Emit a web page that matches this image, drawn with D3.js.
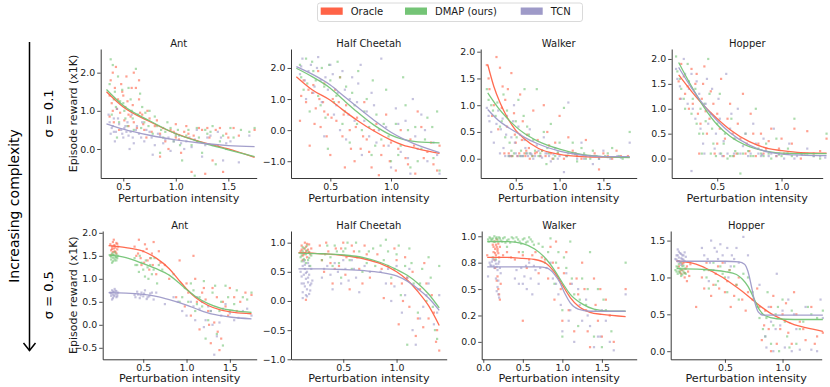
<!DOCTYPE html>
<html><head><meta charset="utf-8">
<script src="https://cdn.jsdelivr.net/npm/d3@7"></script>
<style>body{margin:0;background:#fff;} svg{display:block;font-family:"DejaVu Sans",sans-serif;}</style>
</head><body><svg id="c" width="830" height="387"></svg>
<script>
// ---------- labels ----------
const seriesNames = ["Oracle", "DMAP (ours)", "TCN"];
const envNames = ["Ant", "Half Cheetah", "Walker", "Hopper"];
const sigmaLabels = ["σ = 0.1", "σ = 0.5"];
const yLabel = "Episode reward (x1K)";
const xLabel = "Perturbation intensity";
const sideLabel = "Increasing complexity";

// ---------- tick values / labels (panels: row1 Ant,HC,Walker,Hopper; row2 same) ----------
const xTickValues = [[0.5,1,1.5],[0.5,1],[0.5,1,1.5],[0.5,1],[0.5,1,1.5],[0.5,1],[0,0.5,1,1.5],[0.5,1]];
const xTickLabels = [["0.5","1.0","1.5"],["0.5","1.0"],["0.5","1.0","1.5"],["0.5","1.0"],["0.5","1.0","1.5"],["0.5","1.0"],["0.0","0.5","1.0","1.5"],["0.5","1.0"]];
const yTickValues = [[0,1,2],[-1,0,1,2],[0,0.5,1,1.5,2],[0,0.5,1,1.5,2],[-0.5,0,0.5,1,1.5,2],[-1,-0.5,0,0.5,1],[0,0.25,0.5,0.75,1],[0,0.5,1,1.5]];
const yTickLabels = [["0.0","1.0","2.0"],["−1.0","0.0","1.0","2.0"],["0.0","0.5","1.0","1.5","2.0"],["0.0","0.5","1.0","1.5","2.0"],["−0.5","0.0","0.5","1.0","1.5","2.0"],["−1.0","−0.5","0.0","0.5","1.0"],["0.0","0.2","0.5","0.8","1.0"],["0.0","0.5","1.0","1.5"]];

// ---------- σ = 0.1 : Ant ----------
const antLowOracle = [[0.40,2.0],[0.38,1.8],[0.42,1.6],[0.45,1.3],[0.40,1.0],[0.37,0.85],[0.48,1.7],[0.50,1.4],[0.52,1.1],[0.55,0.9],[0.58,1.6],[0.60,2.0],[0.62,1.6],[0.65,1.3],[0.55,0.6],[0.60,0.7],[0.68,0.9],[0.70,0.5],[0.75,0.8],[0.80,0.6],[0.85,0.4],[0.90,0.2],[0.95,0.5],[1.0,0.3],[1.05,-0.1],[1.10,0.6],[1.12,0.4],[1.15,-0.6],[1.20,0.2],[1.25,0.5],[1.30,0.55],[1.35,-0.3],[1.40,0.1],[1.45,-0.6],[1.50,0.3],[1.55,0.55],[1.60,0.35],[1.75,0.5],[0.85,-0.2],[1.0,0.65],[0.72,0.3],[0.46,0.5],[0.65,1.8],[1.28,-0.65],[0.43,2.15],[0.53,1.9],
  [0.37,1.4],[0.39,1.2],[0.41,0.7],[0.44,1.05],[0.47,0.95],[0.49,1.5],[0.51,0.75],[0.54,1.25],[0.57,0.85],[0.59,1.15],[0.63,0.55],[0.66,0.95],[0.69,0.65],[0.73,1.0],[0.77,0.45],[0.82,0.75],[0.88,0.55],[0.93,0.0],[0.98,0.45],[1.03,0.25],[1.08,0.45],[1.17,0.35],[1.22,0.55],[1.32,0.3],[1.38,0.5],[1.42,0.55],[1.48,0.4]];
const antLowDmap = [[0.38,2.35],[0.40,2.2],[0.42,1.5],[0.45,1.9],[0.50,1.2],[0.52,0.8],[0.55,1.6],[0.58,1.0],[0.62,2.1],[0.66,1.45],[0.70,0.7],[0.75,1.0],[0.78,0.4],[0.82,0.6],[0.88,0.3],[0.92,0.7],[0.98,0.2],[1.02,0.5],[1.06,-0.3],[1.10,0.35],[1.15,0.1],[1.20,0.55],[1.25,-0.1],[1.30,0.4],[1.35,0.6],[1.38,-0.4],[1.42,0.2],[1.48,0.0],[1.55,0.3],[1.62,0.5],[1.70,0.45],[1.75,0.55],[0.44,0.3],[0.60,0.5],[0.85,-0.1],[1.18,-0.7],[0.47,1.25],[0.68,1.1],
  [0.37,1.7],[0.39,0.9],[0.41,1.3],[0.43,1.1],[0.46,0.7],[0.49,1.55],[0.51,1.0],[0.54,0.6],[0.57,1.3],[0.59,0.8],[0.64,0.9],[0.67,0.55],[0.71,0.95],[0.74,0.6],[0.80,0.85],[0.86,0.5],[0.90,0.45],[0.95,0.55],[1.00,0.35],[1.04,0.1],[1.12,0.5],[1.22,0.3],[1.28,0.5],[1.33,0.45],[1.45,0.35],[1.52,0.55]];
const antLowTcn = [[0.36,0.9],[0.38,0.4],[0.40,0.6],[0.42,0.2],[0.45,0.8],[0.48,0.5],[0.50,0.3],[0.52,0.6],[0.55,0.35],[0.58,0.9],[0.60,0.15],[0.62,0.5],[0.65,0.4],[0.68,0.7],[0.70,0.2],[0.75,0.45],[0.80,0.1],[0.85,0.35],[0.90,0.25],[0.95,-0.05],[1.0,0.4],[1.05,0.15],[1.10,0.2],[1.15,0.05],[1.20,0.5],[1.25,-0.2],[1.30,0.3],[1.35,0.1],[1.40,0.45],[1.45,-0.3],[1.52,0.2],[1.60,-0.35],[1.70,0.35],[0.44,1.05],[0.56,0.0],[0.78,-0.15],[0.41,0.45],[0.53,0.45],
  [0.37,0.7],[0.39,0.55],[0.41,0.8],[0.43,0.45],[0.46,0.65],[0.49,0.4],[0.51,0.55],[0.54,0.7],[0.57,0.45],[0.59,0.3],[0.63,0.6],[0.67,0.3],[0.72,0.5],[0.77,0.3],[0.83,0.4],[0.88,0.15],[0.93,0.3],[0.98,0.2],[1.03,0.35],[1.08,0.0],[1.13,0.3],[1.18,0.25],[1.28,0.1],[1.33,0.35],[1.43,0.3],[1.48,0.15]];
const antLowOracleFit = [[0.34,1.50],[0.5,1.10],[0.75,0.72],[1.0,0.40],[1.25,0.18],[1.5,0.0],[1.75,-0.22]];
const antLowDmapFit = [[0.34,1.56],[0.5,1.14],[0.75,0.74],[1.0,0.40],[1.25,0.17],[1.5,-0.02],[1.75,-0.20]];
const antLowTcnFit = [[0.34,0.66],[0.5,0.52],[0.75,0.36],[1.0,0.24],[1.25,0.15],[1.5,0.09],[1.75,0.06]];

// ---------- σ = 0.1 : Half Cheetah ----------
const hcLowOracle = [[0.25,0.3],[0.28,1.6],[0.30,0.9],[0.33,-0.5],[0.35,1.2],[0.38,0.7],[0.40,1.9],[0.42,0.1],[0.45,1.5],[0.48,0.5],[0.50,-0.8],[0.52,1.0],[0.55,0.3],[0.58,1.7],[0.60,-0.2],[0.63,0.8],[0.66,0.0],[0.70,-1.0],[0.72,0.4],[0.75,-0.6],[0.78,0.9],[0.80,-0.3],[0.84,-1.2],[0.88,0.2],[0.92,-0.8],[0.96,0.5],[1.00,-0.4],[1.04,-1.3],[1.08,0.0],[1.12,-0.9],[1.16,-0.3],[1.20,-1.4],[1.25,0.1],[1.30,-0.7],[1.35,-1.1],[1.40,-0.5],[0.62,-1.2],[0.45,0.6],[0.90,-1.45],[1.22,0.6],[0.36,1.45],[0.54,1.3],
  [0.26,1.1],[0.32,1.3],[0.37,0.2],[0.41,1.0],[0.44,0.9],[0.47,-0.2],[0.51,0.4],[0.57,0.9],[0.61,0.5],[0.67,-0.6],[0.71,0.1],[0.77,-0.2],[0.82,-0.7],[0.86,0.0],[0.94,-0.5],[0.99,-1.0],[1.06,-0.6],[1.14,-1.1],[1.19,-0.5],[1.27,-0.9],[1.33,-0.4],[1.38,-1.3]];
const hcLowDmap = [[0.25,2.1],[0.28,1.3],[0.30,2.3],[0.33,0.6],[0.36,1.9],[0.40,1.1],[0.43,2.0],[0.46,0.4],[0.50,1.6],[0.53,0.9],[0.56,2.2],[0.60,0.2],[0.63,1.4],[0.66,-0.4],[0.70,0.8],[0.73,1.9],[0.76,0.0],[0.80,1.0],[0.84,-0.8],[0.88,0.5],[0.92,-0.3],[0.96,1.3],[1.00,-1.0],[1.04,0.2],[1.08,-0.5],[1.12,0.8],[1.16,-1.2],[1.20,0.1],[1.25,-0.6],[1.30,0.4],[1.35,-0.9],[1.38,0.6],[0.48,-0.6],[0.85,1.6],[1.10,1.7],[1.40,-1.3],
  [0.26,1.7],[0.31,1.5],[0.35,2.2],[0.38,1.6],[0.42,0.8],[0.45,1.4],[0.49,2.1],[0.55,1.1],[0.58,1.7],[0.62,0.6],[0.68,1.2],[0.72,0.2],[0.78,0.6],[0.82,0.1],[0.87,-0.5],[0.94,0.2],[0.98,-0.2],[1.06,-0.8],[1.14,0.0],[1.22,-1.0],[1.28,-0.3],[1.34,0.1]];
const hcLowTcn = [[0.25,1.8],[0.27,2.3],[0.30,1.0],[0.34,2.1],[0.37,1.4],[0.40,2.35],[0.43,0.9],[0.46,1.7],[0.50,2.1],[0.53,0.5],[0.56,1.2],[0.60,1.9],[0.63,-0.3],[0.66,1.0],[0.70,0.3],[0.73,1.5],[0.76,-0.8],[0.80,0.6],[0.84,1.2],[0.88,-0.4],[0.92,2.3],[0.96,0.1],[1.00,-1.2],[1.04,0.7],[1.08,-0.7],[1.12,0.3],[1.16,-1.4],[1.20,-0.2],[1.25,0.5],[1.30,-1.0],[1.35,-0.4],[1.40,-1.4],[0.58,0.0],[0.75,2.1],[0.45,-0.2],[1.18,1.0],
  [0.26,2.05],[0.29,1.6],[0.32,1.9],[0.36,1.2],[0.39,2.0],[0.42,1.6],[0.48,1.3],[0.52,1.8],[0.55,0.8],[0.62,1.3],[0.65,0.5],[0.68,1.7],[0.72,0.9],[0.78,0.3],[0.82,-0.2],[0.86,0.8],[0.90,0.0],[0.98,-0.5],[1.06,0.2],[1.14,-0.9],[1.22,-0.6],[1.28,0.0],[1.38,-0.8]];
const hcLowOracleFit = [[0.22,1.72],[0.35,1.30],[0.5,0.96],[0.6,0.66],[0.72,0.32],[0.86,-0.03],[1.0,-0.32],[1.1,-0.48],[1.22,-0.60],[1.4,-0.75]];
const hcLowDmapFit = [[0.22,1.99],[0.35,1.72],[0.5,1.35],[0.6,1.00],[0.72,0.59],[0.86,0.16],[1.0,-0.16],[1.1,-0.30],[1.22,-0.38],[1.4,-0.41]];
const hcLowTcnFit = [[0.22,2.04],[0.35,1.80],[0.5,1.45],[0.6,1.13],[0.72,0.75],[0.86,0.32],[1.0,-0.07],[1.1,-0.28],[1.22,-0.48],[1.4,-0.72]];

// ---------- σ = 0.1 : Walker ----------
const walkerLowOracle = [[0.17,1.75],[0.20,1.3],[0.25,1.0],[0.28,1.9],[0.32,1.7],[0.35,1.35],[0.38,1.1],[0.40,0.6],[0.42,0.1],[0.45,1.6],[0.48,0.85],[0.50,0.3],[0.52,0.05],[0.55,1.2],[0.58,0.7],[0.60,0.1],[0.63,0.45],[0.66,0.0],[0.70,0.9],[0.75,0.35],[0.78,0.05],[0.82,1.0],[0.86,0.5],[0.90,0.1],[0.95,0.3],[1.00,0.8],[1.05,0.0],[1.10,0.4],[1.15,0.15],[1.20,0.05],[1.30,0.35],[1.40,0.1],[1.45,-0.2],[1.55,0.05],[1.65,0.15],[1.78,0.05],[0.44,0.05],[0.62,0.15],[0.72,0.1],[0.92,0.0],
  [0.19,1.5],[0.23,0.8],[0.30,0.55],[0.34,0.95],[0.37,0.1],[0.41,1.3],[0.46,0.05],[0.49,0.45],[0.54,0.1],[0.57,0.35],[0.61,0.05],[0.65,0.2],[0.69,0.05],[0.74,0.12],[0.80,0.15],[0.84,0.05],[0.88,0.25],[0.98,0.1],[1.08,0.05],[1.18,0.1],[1.25,0.0],[1.35,0.05],[1.50,0.1],[1.60,0.0],[1.70,0.05]];
const walkerLowDmap = [[0.17,1.3],[0.22,1.0],[0.27,0.8],[0.32,0.6],[0.36,1.2],[0.40,0.9],[0.43,0.3],[0.46,0.05],[0.50,0.7],[0.53,1.1],[0.56,0.15],[0.60,1.3],[0.63,0.6],[0.66,0.1],[0.70,0.35],[0.74,1.3],[0.78,0.1],[0.82,0.5],[0.86,0.2],[0.90,0.65],[0.95,0.05],[1.00,0.3],[1.05,0.95],[1.10,0.1],[1.15,0.3],[1.20,-0.05],[1.25,0.2],[1.30,0.0],[1.38,0.15],[1.45,0.0],[1.52,0.05],[1.60,0.2],[1.68,0.05],[1.80,0.5],[0.45,0.15],[0.58,0.05],[0.85,-0.1],
  [0.19,1.1],[0.24,0.9],[0.29,1.05],[0.34,0.7],[0.38,0.4],[0.42,0.05],[0.48,0.1],[0.51,0.4],[0.55,0.05],[0.59,0.8],[0.62,0.1],[0.65,0.45],[0.69,0.05],[0.72,0.15],[0.76,0.05],[0.80,0.15],[0.88,0.1],[0.93,0.0],[0.98,0.12],[1.08,0.05],[1.18,0.08],[1.28,0.1],[1.35,0.0],[1.42,0.05],[1.55,0.1],[1.72,0.0]];
const walkerLowTcn = [[0.17,0.95],[0.20,0.7],[0.25,0.3],[0.30,0.9],[0.33,0.55],[0.36,0.2],[0.40,0.8],[0.42,0.05],[0.45,0.4],[0.48,1.0],[0.50,0.1],[0.53,0.6],[0.56,0.05],[0.60,0.35],[0.63,0.1],[0.66,0.55],[0.70,0.0],[0.74,0.25],[0.78,0.05],[0.82,0.4],[0.86,0.1],[0.90,-0.05],[0.95,0.2],[1.00,0.05],[1.05,-0.25],[1.10,1.05],[1.15,0.1],[1.20,0.0],[1.25,0.3],[1.30,0.05],[1.38,-0.1],[1.45,0.0],[1.50,0.15],[1.58,0.0],[1.66,0.05],[1.80,0.3],[0.38,0.05],[0.52,0.05],[0.68,0.08],
  [0.19,0.8],[0.22,0.5],[0.28,0.65],[0.32,0.1],[0.35,0.75],[0.39,0.45],[0.44,0.05],[0.47,0.7],[0.49,0.3],[0.55,0.45],[0.58,0.05],[0.61,0.2],[0.64,0.05],[0.67,0.1],[0.72,0.05],[0.76,0.15],[0.80,0.02],[0.84,0.1],[0.88,0.05],[0.93,0.08],[0.98,0.0],[1.08,0.05],[1.18,0.1],[1.28,0.0],[1.40,0.05],[1.55,0.03],[1.70,0.02]];
const walkerLowOracleFit = [[0.18,1.76],[0.25,1.35],[0.32,1.05],[0.4,0.78],[0.5,0.53],[0.6,0.37],[0.75,0.2],[1.0,0.08],[1.25,0.04],[1.5,0.03],[1.8,0.03]];
const walkerLowDmapFit = [[0.18,1.23],[0.3,0.95],[0.4,0.76],[0.5,0.60],[0.6,0.47],[0.75,0.33],[1.0,0.18],[1.25,0.08],[1.5,0.04],[1.8,0.02]];
const walkerLowTcnFit = [[0.18,0.92],[0.3,0.72],[0.4,0.60],[0.5,0.50],[0.6,0.40],[0.75,0.28],[1.0,0.14],[1.25,0.07],[1.5,0.04],[1.8,0.04]];

// ---------- σ = 0.1 : Hopper ----------
const hopperLowOracle = [[0.20,1.55],[0.22,1.9],[0.25,1.3],[0.28,1.0],[0.30,1.8],[0.33,1.5],[0.35,0.9],[0.38,1.2],[0.40,1.85],[0.42,0.5],[0.45,1.35],[0.48,0.1],[0.50,0.9],[0.53,1.6],[0.56,0.4],[0.60,1.1],[0.63,0.05],[0.66,0.7],[0.70,1.3],[0.73,0.3],[0.76,0.9],[0.80,0.05],[0.84,0.5],[0.88,0.2],[0.92,0.6],[0.96,0.05],[1.00,0.4],[1.05,0.1],[1.10,0.6],[1.15,0.0],[1.20,0.55],[1.25,0.1],[1.35,0.4],[0.36,0.1],[0.55,0.05],[0.72,0.1],
  [0.21,1.2],[0.24,1.65],[0.27,1.45],[0.31,1.1],[0.34,1.7],[0.37,0.7],[0.39,1.5],[0.41,0.95],[0.44,0.8],[0.47,1.1],[0.50,0.3],[0.52,0.6],[0.58,0.8],[0.62,0.5],[0.65,0.1],[0.68,0.4],[0.75,0.15],[0.78,0.5],[0.82,0.3],[0.86,0.1],[0.90,0.35],[0.98,0.2],[1.02,0.1],[1.08,0.3],[1.18,0.1],[1.30,0.15]];
const hopperLowDmap = [[0.18,2.05],[0.21,1.6],[0.24,1.2],[0.27,1.9],[0.30,0.9],[0.33,1.4],[0.36,0.5],[0.38,0.1],[0.40,1.1],[0.43,2.0],[0.46,0.6],[0.49,0.05],[0.52,1.3],[0.55,0.3],[0.58,0.0],[0.61,0.8],[0.64,0.15],[0.68,-0.3],[0.72,0.5],[0.76,0.05],[0.80,1.0],[0.84,0.1],[0.88,0.3],[0.92,0.0],[0.96,0.4],[1.00,0.05],[1.05,0.2],[1.10,0.8],[1.15,0.1],[1.25,0.05],[1.35,0.5],[0.45,0.1],[0.62,0.05],[0.70,0.1],
  [0.19,1.75],[0.22,1.4],[0.25,1.0],[0.28,1.55],[0.31,1.2],[0.34,0.7],[0.37,1.0],[0.39,0.5],[0.41,0.75],[0.44,1.3],[0.47,0.3],[0.50,0.7],[0.53,0.1],[0.56,0.5],[0.60,0.05],[0.63,0.4],[0.66,0.1],[0.74,0.15],[0.78,0.05],[0.82,0.2],[0.86,0.05],[0.90,0.1],[0.98,0.08],[1.08,0.05],[1.20,0.1],[1.30,0.0]];
const hopperLowTcn = [[0.18,1.8],[0.21,1.45],[0.24,2.0],[0.27,1.1],[0.30,1.7],[0.33,0.8],[0.36,1.3],[0.39,0.3],[0.42,1.6],[0.45,0.9],[0.48,0.2],[0.51,1.2],[0.54,0.05],[0.57,1.7],[0.60,0.6],[0.63,0.1],[0.66,1.0],[0.70,0.25],[0.74,0.05],[0.78,0.7],[0.82,0.1],[0.86,0.4],[0.90,0.05],[0.94,0.6],[0.98,0.1],[1.02,0.0],[1.06,0.3],[1.12,0.05],[1.20,0.2],[1.30,0.05],[0.40,0.1],[0.52,0.1],[0.85,0.08],[0.30,-0.25],
  [0.19,1.6],[0.22,1.2],[0.25,1.7],[0.28,1.4],[0.31,1.0],[0.34,1.55],[0.37,0.6],[0.41,1.1],[0.43,0.7],[0.46,1.4],[0.49,0.5],[0.52,0.8],[0.55,0.35],[0.58,0.1],[0.61,0.9],[0.64,0.4],[0.68,0.1],[0.72,0.5],[0.76,0.1],[0.80,0.3],[0.84,0.05],[0.88,0.15],[0.92,0.1],[0.96,0.05],[1.04,0.1],[1.10,0.0],[1.16,0.08],[1.25,0.05],[1.34,0.02]];
const hopperLowOracleFit = [[0.2,1.68],[0.3,1.35],[0.4,1.05],[0.5,0.80],[0.6,0.58],[0.75,0.34],[0.9,0.20],[1.0,0.16],[1.15,0.12],[1.35,0.11]];
const hopperLowDmapFit = [[0.2,1.93],[0.3,1.45],[0.4,1.02],[0.5,0.68],[0.6,0.45],[0.75,0.24],[0.9,0.14],[1.0,0.11],[1.15,0.10],[1.35,0.10]];
const hopperLowTcnFit = [[0.2,1.83],[0.3,1.42],[0.4,1.06],[0.5,0.76],[0.6,0.52],[0.75,0.27],[0.9,0.13],[1.0,0.09],[1.15,0.07],[1.35,0.06]];

// ---------- σ = 0.5 : Ant ----------
const antHighOracle = [[0.12,1.75],[0.13,1.62],[0.14,1.7],[0.15,1.8],[0.15,1.58],[0.16,1.66],[0.17,1.73],[0.17,1.6],[0.18,1.68],[0.19,1.78],[0.19,1.55],[0.20,1.64],[0.13,1.52],[0.16,1.85],[0.21,1.7],[0.40,1.7],[0.42,1.5],[0.45,1.85],[0.48,1.3],[0.50,1.6],[0.52,1.75],[0.55,1.4],[0.57,1.2],[0.60,1.55],[0.62,1.8],[0.65,1.1],[0.70,1.35],[0.80,1.0],[0.88,0.6],[0.92,1.4],[1.00,0.9],[1.05,0.2],[1.08,1.5],[1.12,0.5],[1.15,-0.1],[1.20,0.8],[1.25,0.3],[1.28,-0.4],[1.32,0.05],[1.35,0.6],[1.40,-0.3],[1.45,0.4],[1.50,0.8],[1.55,0.6],[1.62,0.5],[1.75,0.65],[1.18,0.7],[1.38,-0.55],
  [0.14,1.65],[0.16,1.72],[0.18,1.58],[0.20,1.76],[0.44,1.55],[0.47,1.45],[0.51,1.35],[0.54,1.65],[0.58,1.45],[0.61,1.3],[0.68,1.6],[0.75,1.3],[0.98,0.4],[1.02,0.7],[1.10,1.0],[1.22,0.55],[1.30,0.8],[1.42,0.5],[1.48,0.2],[1.58,0.3],[1.68,0.7],[1.26,0.0],[1.36,-0.15]];
const antHighDmap = [[0.12,1.5],[0.13,1.42],[0.14,1.55],[0.15,1.46],[0.15,1.38],[0.16,1.52],[0.17,1.44],[0.17,1.58],[0.18,1.48],[0.19,1.4],[0.19,1.53],[0.20,1.45],[0.14,1.35],[0.21,1.5],[0.40,1.45],[0.43,1.3],[0.46,1.5],[0.50,1.2],[0.53,1.4],[0.56,1.0],[0.58,1.3],[0.60,1.1],[0.63,1.45],[0.66,0.9],[0.72,1.2],[0.85,1.1],[0.92,0.5],[0.98,0.8],[1.05,0.9],[1.10,0.3],[1.15,0.6],[1.20,0.95],[1.25,0.1],[1.30,0.7],[1.35,-0.2],[1.40,0.5],[1.45,0.85],[1.50,0.3],[1.58,0.75],[1.65,0.6],[1.75,0.7],[1.22,-0.3],[1.42,-0.45],
  [0.13,1.48],[0.15,1.52],[0.17,1.4],[0.19,1.47],[0.41,1.3],[0.45,1.15],[0.48,1.35],[0.52,1.05],[0.55,1.25],[0.59,1.45],[0.62,1.2],[0.68,1.3],[0.95,0.6],[1.02,0.5],[1.08,0.75],[1.12,0.45],[1.18,0.4],[1.28,0.3],[1.33,0.85],[1.38,0.3],[1.48,0.6],[1.55,0.45],[1.70,0.55]];
const antHighTcn = [[0.12,0.7],[0.13,0.63],[0.14,0.75],[0.15,0.66],[0.15,0.58],[0.16,0.72],[0.17,0.64],[0.17,0.78],[0.18,0.68],[0.19,0.6],[0.19,0.73],[0.20,0.66],[0.14,0.55],[0.21,0.7],[0.40,0.65],[0.43,0.72],[0.46,0.58],[0.48,0.7],[0.50,0.62],[0.52,0.75],[0.55,0.6],[0.58,0.68],[0.62,0.55],[0.65,0.7],[0.75,0.45],[0.85,0.6],[0.95,0.3],[1.05,0.5],[1.10,0.1],[1.15,0.35],[1.20,-0.05],[1.25,0.4],[1.30,0.0],[1.35,-0.25],[1.40,0.2],[1.45,0.45],[1.55,0.1],[1.65,0.3],[1.75,0.2],[1.32,-0.65],[1.12,0.6],
  [0.13,0.68],[0.15,0.72],[0.16,0.62],[0.18,0.74],[0.20,0.62],[0.41,0.6],[0.44,0.66],[0.47,0.64],[0.51,0.68],[0.54,0.56],[0.57,0.62],[0.60,0.7],[0.90,0.5],[1.00,0.2],[1.08,0.4],[1.18,0.5],[1.22,0.1],[1.28,0.3],[1.38,0.05],[1.42,0.35],[1.50,0.25],[1.60,0.15],[1.70,0.35]];
const antHighOracleFit = [[0.1,1.72],[0.3,1.68],[0.5,1.60],[0.65,1.45],[0.8,1.22],[0.9,1.00],[1.0,0.78],[1.1,0.60],[1.25,0.42],[1.4,0.32],[1.55,0.27],[1.75,0.24]];
const antHighDmapFit = [[0.1,1.52],[0.3,1.46],[0.5,1.33],[0.65,1.22],[0.8,1.08],[0.9,0.93],[1.0,0.77],[1.1,0.62],[1.25,0.46],[1.4,0.36],[1.55,0.31],[1.75,0.27]];
const antHighTcnFit = [[0.1,0.70],[0.3,0.69],[0.5,0.66],[0.65,0.62],[0.8,0.55],[1.0,0.43],[1.15,0.32],[1.3,0.23],[1.5,0.17],[1.75,0.13]];

// ---------- σ = 0.5 : Half Cheetah ----------
const hcHighOracle = [[0.10,0.85],[0.11,0.95],[0.12,0.78],[0.13,0.9],[0.14,1.0],[0.14,0.82],[0.15,0.93],[0.16,0.75],[0.17,0.88],[0.18,0.97],[0.19,0.8],[0.12,0.7],[0.20,0.9],[0.15,0.02],[0.28,0.95],[0.32,0.5],[0.36,0.85],[0.40,0.3],[0.43,0.9],[0.46,0.6],[0.50,1.0],[0.53,0.75],[0.56,0.2],[0.60,0.85],[0.65,0.55],[0.70,0.95],[0.75,0.4],[0.82,0.8],[0.88,0.05],[0.92,0.6],[0.98,0.9],[1.02,-0.4],[1.05,0.3],[1.08,0.75],[1.12,-0.1],[1.15,0.5],[1.18,-0.6],[1.22,0.2],[1.26,0.65],[1.30,-0.3],[1.33,0.1],[1.37,-0.7],[1.40,-0.85],[1.25,-0.45],
  [0.11,0.88],[0.13,0.8],[0.15,0.86],[0.16,0.98],[0.18,0.84],[0.30,0.7],[0.34,1.0],[0.38,0.65],[0.42,0.55],[0.48,0.9],[0.52,0.45],[0.58,0.95],[0.63,0.75],[0.68,0.3],[0.72,0.8],[0.86,0.55],[0.95,0.3],[1.00,0.7],[1.06,0.0],[1.10,0.4],[1.20,-0.3],[1.28,0.3],[1.35,-0.2],[1.38,-0.5]];
const hcHighDmap = [[0.10,0.75],[0.11,0.68],[0.12,0.85],[0.13,0.72],[0.14,0.9],[0.15,0.65],[0.15,0.8],[0.16,0.95],[0.17,0.7],[0.18,0.83],[0.19,0.6],[0.20,0.78],[0.30,0.7],[0.35,0.95],[0.40,0.6],[0.44,0.85],[0.48,0.4],[0.52,0.9],[0.56,0.7],[0.62,1.0],[0.68,0.5],[0.74,0.85],[0.80,0.6],[0.85,0.95],[0.90,1.05],[0.95,0.4],[1.00,0.8],[1.04,0.1],[1.08,0.6],[1.12,0.9],[1.16,0.3],[1.20,-0.2],[1.24,0.55],[1.28,0.0],[1.32,0.4],[1.36,-0.5],[1.40,0.6],[1.10,-0.75],[1.38,-0.65],
  [0.11,0.78],[0.12,0.92],[0.14,0.7],[0.16,0.86],[0.18,0.74],[0.33,0.8],[0.38,0.75],[0.42,0.95],[0.46,0.65],[0.50,0.85],[0.54,1.0],[0.58,0.55],[0.65,0.85],[0.72,0.65],[0.78,0.9],[0.88,0.7],[0.92,0.85],[0.98,0.55],[1.02,0.95],[1.14,0.65],[1.22,0.3],[1.30,0.75],[1.34,-0.1]];
const hcHighTcn = [[0.10,0.5],[0.11,0.3],[0.12,0.6],[0.12,0.15],[0.13,0.45],[0.14,0.25],[0.14,0.55],[0.15,0.1],[0.15,0.38],[0.16,0.5],[0.16,0.2],[0.17,0.65],[0.17,0.32],[0.18,0.12],[0.18,0.45],[0.19,0.27],[0.20,0.55],[0.21,0.35],[0.13,0.68],[0.30,0.4],[0.35,0.6],[0.40,0.2],[0.45,0.5],[0.50,0.7],[0.55,0.35],[0.60,0.55],[0.65,0.15],[0.70,0.6],[0.85,0.5],[0.90,0.3],[0.95,0.0],[1.00,0.6],[1.05,-0.2],[1.10,0.4],[1.15,-0.5],[1.20,0.2],[1.25,-0.1],[1.30,0.3],[1.35,-0.4],[1.40,0.1],[1.18,-0.75],
  [0.11,0.42],[0.12,0.05],[0.13,0.3],[0.14,0.62],[0.15,0.48],[0.16,0.08],[0.17,0.4],[0.18,0.6],[0.19,0.18],[0.20,0.3],[0.32,0.55],[0.38,0.45],[0.42,0.65],[0.48,0.3],[0.52,0.55],[0.58,0.7],[0.62,0.4],[0.75,0.5],[0.92,0.55],[0.98,0.25],[1.08,0.1],[1.12,0.55],[1.22,-0.3],[1.28,0.1],[1.38,-0.2]];
const hcHighOracleFit = [[0.08,0.83],[0.3,0.81],[0.5,0.78],[0.7,0.72],[0.85,0.64],[1.0,0.50],[1.1,0.36],[1.2,0.16],[1.3,-0.08],[1.4,-0.42]];
const hcHighDmapFit = [[0.08,0.82],[0.3,0.81],[0.5,0.79],[0.7,0.74],[0.85,0.66],[1.0,0.54],[1.1,0.44],[1.2,0.30],[1.3,0.12],[1.4,-0.12]];
const hcHighTcnFit = [[0.08,0.55],[0.3,0.55],[0.5,0.54],[0.7,0.52],[0.85,0.49],[1.0,0.43],[1.1,0.34],[1.2,0.21],[1.3,0.05],[1.4,-0.16]];

// ---------- σ = 0.5 : Walker ----------
const walkerHighOracle = [[0.12,0.92],[0.13,0.85],[0.14,0.95],[0.15,0.88],[0.16,0.82],[0.17,0.9],[0.18,0.86],[0.19,0.93],[0.20,0.8],[0.14,0.78],[0.17,0.97],[0.18,0.62],[0.20,0.45],[0.22,0.55],[0.15,0.7],[0.05,0.82],[0.35,0.8],[0.45,0.85],[0.55,0.7],[0.62,0.82],[0.70,0.65],[0.78,0.78],[0.85,0.9],[0.90,0.4],[0.95,0.7],[1.00,0.2],[1.05,0.85],[1.10,0.55],[1.15,0.1],[1.20,0.45],[1.25,0.75],[1.30,0.3],[1.35,-0.05],[1.40,0.6],[1.45,0.2],[1.50,0.05],[1.55,0.4],[1.65,0.0],[1.80,0.5],[0.50,0.2],[0.92,0.95],
  [0.13,0.9],[0.15,0.84],[0.16,0.92],[0.18,0.88],[0.19,0.84],[0.21,0.9],[0.17,0.58],[0.19,0.5],[0.21,0.4],[0.25,0.82],[0.30,0.85],[0.40,0.78],[0.50,0.82],[0.58,0.78],[0.66,0.85],[0.74,0.8],[0.82,0.6],[0.88,0.75],[0.98,0.5],[1.02,0.65],[1.08,0.3],[1.18,0.6],[1.28,0.5],[1.32,0.1],[1.42,0.35],[1.48,0.5],[1.60,0.25]];
const walkerHighDmap = [[0.06,0.97],[0.08,0.99],[0.10,0.96],[0.12,0.98],[0.14,1.0],[0.15,0.95],[0.16,0.98],[0.18,0.97],[0.20,0.99],[0.22,0.96],[0.25,0.98],[0.28,0.94],[0.32,0.97],[0.36,0.99],[0.40,0.95],[0.44,0.97],[0.48,0.93],[0.52,0.98],[0.56,0.95],[0.60,0.97],[0.64,0.92],[0.12,0.8],[0.16,0.78],[0.30,0.9],[0.50,0.85],[0.70,0.93],[0.78,0.75],[0.85,0.98],[0.90,0.55],[0.95,0.85],[1.00,0.3],[1.05,0.7],[1.10,0.95],[1.15,0.45],[1.20,0.15],[1.25,0.6],[1.30,0.35],[1.35,0.85],[1.40,0.05],[1.45,0.5],[1.50,-0.05],[1.55,0.3],[1.62,0.1],[1.80,0.75],[1.0,0.05],
  [0.07,0.95],[0.09,0.98],[0.11,0.97],[0.13,0.95],[0.17,0.99],[0.19,0.95],[0.21,0.98],[0.24,0.95],[0.27,0.99],[0.30,0.96],[0.34,0.94],[0.38,0.98],[0.42,0.99],[0.46,0.95],[0.50,0.97],[0.54,0.94],[0.58,0.99],[0.62,0.95],[0.75,0.9],[0.82,0.85],[0.92,0.75],[1.02,0.8],[1.12,0.6],[1.22,0.4],[1.32,0.5],[1.42,0.3],[1.52,0.4]];
const walkerHighTcn = [[0.08,0.75],[0.10,0.72],[0.12,0.78],[0.14,0.7],[0.16,0.74],[0.18,0.68],[0.20,0.76],[0.22,0.65],[0.16,0.6],[0.18,0.52],[0.20,0.42],[0.19,0.58],[0.06,0.62],[0.40,0.6],[0.45,0.55],[0.48,0.7],[0.52,0.62],[0.55,0.5],[0.58,0.75],[0.62,0.45],[0.66,0.68],[0.70,0.55],[0.80,0.7],[0.88,0.6],[0.95,0.45],[1.00,0.1],[1.05,0.65],[1.10,0.3],[1.15,0.0],[1.20,0.5],[1.25,0.2],[1.30,0.4],[1.35,0.15],[1.40,-0.05],[1.45,0.05],[1.50,0.3],[1.60,0.0],[1.65,-0.08],[1.80,0.45],
  [0.09,0.73],[0.11,0.76],[0.13,0.72],[0.15,0.77],[0.17,0.71],[0.19,0.74],[0.21,0.7],[0.17,0.48],[0.19,0.45],[0.42,0.68],[0.50,0.55],[0.54,0.72],[0.60,0.6],[0.64,0.72],[0.72,0.7],[0.85,0.75],[0.92,0.55],[0.98,0.35],[1.08,0.2],[1.12,0.55],[1.22,0.35],[1.32,0.25],[1.48,0.05],[1.55,0.2]];
const walkerHighOracleFit = [[0.05,0.80],[0.3,0.80],[0.5,0.79],[0.65,0.78],[0.8,0.74],[0.9,0.66],[1.0,0.54],[1.1,0.42],[1.2,0.34],[1.35,0.28],[1.5,0.26],[1.8,0.24]];
const walkerHighDmapFit = [[0.05,0.95],[0.3,0.95],[0.5,0.93],[0.65,0.88],[0.8,0.78],[0.9,0.68],[1.0,0.56],[1.1,0.45],[1.25,0.36],[1.4,0.31],[1.6,0.29],[1.8,0.29]];
const walkerHighTcnFit = [[0.05,0.71],[0.4,0.71],[0.7,0.71],[0.8,0.70],[0.9,0.64],[0.97,0.56],[1.03,0.46],[1.1,0.37],[1.2,0.31],[1.35,0.29],[1.6,0.29],[1.8,0.29]];

// ---------- σ = 0.5 : Hopper ----------
const hopperHighOracle = [[0.10,1.15],[0.12,1.05],[0.14,1.2],[0.15,1.0],[0.16,1.12],[0.18,1.08],[0.20,1.18],[0.17,0.95],[0.13,1.1],[0.30,1.0],[0.34,1.2],[0.38,0.75],[0.42,1.05],[0.45,0.85],[0.48,1.2],[0.52,0.95],[0.55,0.6],[0.60,0.9],[0.65,0.7],[0.70,0.8],[0.25,0.6],[0.78,0.85],[0.82,0.15],[0.85,0.55],[0.88,0.3],[0.92,0.75],[0.95,0.1],[1.00,0.5],[1.05,0.25],[1.10,0.8],[1.15,0.4],[1.20,0.15],[1.25,0.6],[1.30,0.2],[1.35,0.25],[0.90,0.0],
  [0.11,1.08],[0.13,1.18],[0.15,1.06],[0.17,1.15],[0.19,1.02],[0.32,0.85],[0.36,1.1],[0.40,0.9],[0.44,1.15],[0.50,0.8],[0.54,1.1],[0.58,0.75],[0.62,1.0],[0.68,0.55],[0.74,0.7],[0.80,0.6],[0.84,0.35],[0.90,0.6],[0.98,0.3],[1.03,0.65],[1.08,0.1],[1.12,0.5],[1.18,0.3],[1.28,0.1]];
const hopperHighDmap = [[0.07,1.1],[0.08,1.15],[0.09,1.05],[0.10,1.18],[0.10,1.08],[0.11,1.12],[0.12,1.02],[0.13,1.15],[0.14,1.08],[0.15,1.12],[0.16,1.05],[0.12,1.2],[0.32,1.1],[0.36,0.85],[0.40,1.2],[0.44,0.95],[0.48,1.05],[0.52,0.8],[0.58,1.15],[0.62,0.7],[0.70,1.0],[0.78,0.6],[0.83,0.3],[0.87,0.8],[0.90,0.1],[0.94,0.5],[0.97,0.0],[1.00,0.7],[1.04,0.2],[1.08,0.55],[1.12,0.1],[1.18,0.4],[1.25,0.5],[1.35,0.55],[0.86,0.45],
  [0.08,1.08],[0.09,1.14],[0.11,1.06],[0.12,1.1],[0.13,1.04],[0.14,1.16],[0.15,1.06],[0.34,1.0],[0.38,1.1],[0.42,0.9],[0.46,1.15],[0.50,1.0],[0.54,1.1],[0.60,0.9],[0.66,1.05],[0.74,0.8],[0.80,0.45],[0.85,0.2],[0.92,0.35],[0.96,0.6],[1.02,0.4],[1.06,0.05],[1.15,0.3],[1.22,0.6],[1.30,0.45]];
const hopperHighTcn = [[0.07,1.25],[0.08,1.3],[0.09,1.22],[0.10,1.35],[0.10,1.27],[0.11,1.2],[0.12,1.32],[0.13,1.25],[0.14,1.3],[0.15,1.22],[0.09,1.38],[0.12,1.17],[0.16,1.28],[0.30,1.4],[0.35,1.25],[0.38,1.5],[0.40,1.1],[0.43,1.35],[0.46,1.45],[0.50,1.2],[0.53,1.0],[0.56,1.3],[0.60,1.4],[0.66,1.55],[0.36,0.95],[0.80,0.9],[0.85,0.2],[0.88,0.6],[0.92,0.0],[0.95,1.05],[0.98,0.35],[1.02,0.05],[1.05,0.7],[1.10,0.5],[1.15,0.02],[1.20,0.6],[1.30,0.0],[1.33,0.7],[0.90,0.4],
  [0.08,1.24],[0.09,1.3],[0.10,1.22],[0.11,1.33],[0.12,1.26],[0.13,1.3],[0.14,1.24],[0.15,1.34],[0.32,1.3],[0.37,1.2],[0.41,1.4],[0.44,1.25],[0.48,1.3],[0.52,1.4],[0.55,1.15],[0.58,1.25],[0.62,1.2],[0.70,1.3],[0.82,0.5],[0.86,0.05],[0.94,0.3],[1.00,0.55],[1.08,0.0],[1.12,0.3],[1.25,0.02],[1.35,0.45]];
const hopperHighOracleFit = [[0.08,1.22],[0.2,1.20],[0.3,1.15],[0.4,1.07],[0.5,0.98],[0.6,0.87],[0.7,0.75],[0.8,0.62],[0.9,0.51],[1.0,0.43],[1.1,0.36],[1.2,0.32],[1.35,0.27]];
const hopperHighDmapFit = [[0.08,1.12],[0.3,1.11],[0.5,1.08],[0.6,1.04],[0.65,0.98],[0.7,0.88],[0.75,0.72],[0.8,0.56],[0.85,0.48],[0.95,0.44],[1.1,0.43],[1.35,0.43]];
const hopperHighTcnFit = [[0.08,1.22],[0.3,1.22],[0.5,1.22],[0.62,1.21],[0.67,1.18],[0.7,1.08],[0.73,0.88],[0.76,0.66],[0.79,0.53],[0.83,0.49],[1.0,0.49],[1.35,0.49]];

// ---------- assemble ----------
const panelPoints = [
  [antLowOracle, antLowDmap, antLowTcn], [hcLowOracle, hcLowDmap, hcLowTcn],
  [walkerLowOracle, walkerLowDmap, walkerLowTcn], [hopperLowOracle, hopperLowDmap, hopperLowTcn],
  [antHighOracle, antHighDmap, antHighTcn], [hcHighOracle, hcHighDmap, hcHighTcn],
  [walkerHighOracle, walkerHighDmap, walkerHighTcn], [hopperHighOracle, hopperHighDmap, hopperHighTcn]];
const panelFits = [
  [antLowOracleFit, antLowDmapFit, antLowTcnFit], [hcLowOracleFit, hcLowDmapFit, hcLowTcnFit],
  [walkerLowOracleFit, walkerLowDmapFit, walkerLowTcnFit], [hopperLowOracleFit, hopperLowDmapFit, hopperLowTcnFit],
  [antHighOracleFit, antHighDmapFit, antHighTcnFit], [hcHighOracleFit, hcHighDmapFit, hcHighTcnFit],
  [walkerHighOracleFit, walkerHighDmapFit, walkerHighTcnFit], [hopperHighOracleFit, hopperHighDmapFit, hopperHighTcnFit]];

// ---------- layout / style ----------
const colors = ["#ff6347", "#74c476", "#9e9ac8"];
const frames = [
  {l:100.7, r:256.7, t:49, b:178, xd:[0.285,1.77], yd:[-0.76,2.62]},
  {l:291,   r:446.7, t:49, b:178, xd:[0.176,1.459], yd:[-1.54,2.61]},
  {l:480.7, r:636.7, t:49, b:178, xd:[0.10,1.88], yd:[-0.36,2.05]},
  {l:671.7, r:822.7, t:49, b:178, xd:[0.146,1.32], yd:[-0.39,2.2]},
  {l:102.7, r:256.7, t:231, b:359.3, xd:[0.032,1.81], yd:[-0.75,2.04]},
  {l:291,   r:446.7, t:231, b:359.3, xd:[0.01,1.47], yd:[-1.0,1.2]},
  {l:481.7, r:636.7, t:231, b:359.3, xd:[-0.02,1.94], yd:[-0.165,1.05]},
  {l:670.7, r:821.7, t:231, b:359.3, xd:[0.029,1.34], yd:[-0.11,1.63]}];

const svg = d3.select("#c");
const txt = "#1a1a1a";

frames.forEach((f, i) => {
  const x = d3.scaleLinear().domain(f.xd).range([f.l, f.r]);
  const y = d3.scaleLinear().domain(f.yd).range([f.b, f.t]);
  const g = svg.append("g");

  // scatter
  panelPoints[i].forEach((pts, s) => {
    g.append("g").selectAll("rect").data(pts).join("rect")
      .attr("x", d => x(d[0]) - 1.1).attr("y", d => y(d[1]) - 1.1)
      .attr("width", 2.2).attr("height", 2.2)
      .attr("fill", colors[s]).attr("opacity", 0.6);
  });
  // fits
  const line = d3.line().x(d => x(d[0])).y(d => y(d[1])).curve(d3.curveMonotoneX);
  panelFits[i].forEach((fit, s) => {
    g.append("path").attr("d", line(fit)).attr("fill", "none")
      .attr("stroke", colors[s]).attr("stroke-width", 1.3).attr("opacity", 0.95);
  });

  // axes
  const xa = d3.axisBottom(x).tickValues(xTickValues[i]).tickFormat((d, k) => xTickLabels[i][k])
    .tickSize(3.5).tickSizeOuter(0).tickPadding(1.5);
  const ya = d3.axisLeft(y).tickValues(yTickValues[i]).tickFormat((d, k) => yTickLabels[i][k])
    .tickSize(3.5).tickSizeOuter(0).tickPadding(2);
  const gx = svg.append("g").attr("transform", `translate(0,${f.b})`).call(xa);
  const gy = svg.append("g").attr("transform", `translate(${f.l},0)`).call(ya);
  [gx, gy].forEach(a => {
    a.selectAll("path.domain").attr("stroke", "#222").attr("stroke-width", 0.9);
    a.selectAll(".tick line").attr("stroke", "#222").attr("stroke-width", 0.8);
    a.selectAll(".tick text").attr("fill", txt).style("font-size", "9.4px")
      .style("font-family", '"DejaVu Sans", sans-serif');
  });

  // title
  const row = i < 4 ? 0 : 1;
  svg.append("text").attr("x", (f.l + f.r) / 2).attr("y", f.t - 2.5)
    .attr("text-anchor", "middle").attr("fill", txt).style("font-size", "10px")
    .text(envNames[i % 4]);
  // x label
  svg.append("text").attr("x", (f.l + f.r) / 2).attr("y", row === 0 ? 201.5 : 381.5)
    .attr("text-anchor", "middle").attr("fill", txt).style("font-size", "11.2px")
    .text(xLabel);
  // y label on first column
  if (i % 4 === 0) {
    svg.append("text").attr("transform", `translate(76.5,${(f.t + f.b) / 2}) rotate(-90)`)
      .attr("text-anchor", "middle").attr("fill", txt).style("font-size", "11px")
      .text(yLabel);
    svg.append("text").attr("transform", `translate(53,${(f.t + f.b) / 2}) rotate(-90)`)
      .attr("text-anchor", "middle").attr("fill", "#000").style("font-size", "13px")
      .text(sigmaLabels[row]);
  }
});

// side annotation
svg.append("text").attr("transform", "translate(18.5,206) rotate(-90)")
  .attr("text-anchor", "middle").attr("fill", "#000").style("font-size", "14px").text(sideLabel);
svg.append("line").attr("x1", 29.5).attr("x2", 29.5).attr("y1", 42).attr("y2", 350.5)
  .attr("stroke", "#000").attr("stroke-width", 1.5);
svg.append("path").attr("d", "M23.5,343 L29.5,350.5 L35.5,343").attr("fill", "none")
  .attr("stroke", "#000").attr("stroke-width", 1.5);

// legend
const lg = svg.append("g");
lg.append("rect").attr("x", 317.5).attr("y", 3).attr("width", 265).attr("height", 18.5)
  .attr("rx", 2.5).attr("fill", "#fff").attr("stroke", "#d0d0d0").attr("stroke-width", 0.8);
const legX = [320.7, 405, 520.7];
seriesNames.forEach((n, s) => {
  lg.append("rect").attr("x", legX[s]).attr("y", 7.5).attr("width", 22).attr("height", 7.3)
    .attr("fill", colors[s]);
  lg.append("text").attr("x", legX[s] + 30).attr("y", 15.3).attr("fill", txt)
    .style("font-size", "10px").text(n);
});
</script></body></html>
